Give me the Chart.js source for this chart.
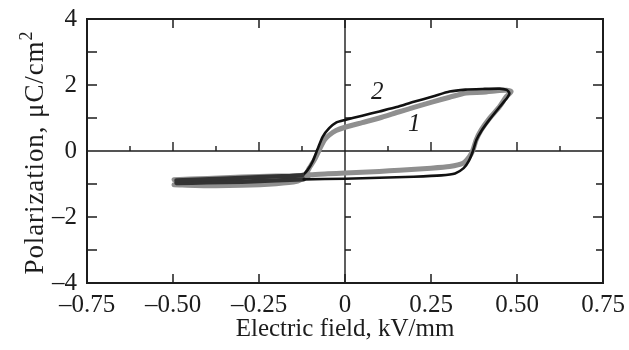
<!DOCTYPE html>
<html>
<head>
<meta charset="utf-8">
<title>Polarization loops</title>
<script src="https://cdn.jsdelivr.net/npm/chart.js@4.4.1/dist/chart.umd.min.js"></script>
<style>
    body { margin: 0; background: #ffffff; }
    #LoopChart { display: block; }
</style>
</head>
<body>
<canvas id="LoopChart" width="629" height="350"></canvas>
<script>
const LoopChartId = 'LoopChart';

// axis ticks
const fieldTicks = [-0.75, -0.5, -0.25, 0, 0.25, 0.5, 0.75];
const polarizationTicks = [-4, -2, 0, 2, 4];

// loop 1 (gray), rising field branch then falling field branch
const loop1RiseE = [-0.497, -0.40, -0.30, -0.20, -0.14, -0.115, -0.10, -0.05, 0.00, 0.10, 0.158, 0.25, 0.304, 0.343, 0.362, 0.372, 0.381, 0.396, 0.42, 0.449, 0.469, 0.483];
const loop1RiseP = [-1.02, -1.05, -1.04, -0.99, -0.92, -0.80, -0.72, -0.69, -0.67, -0.62, -0.58, -0.52, -0.47, -0.37, -0.17, 0.03, 0.33, 0.64, 0.99, 1.34, 1.65, 1.80];
const loop1FallE = [0.47, 0.449, 0.40, 0.352, 0.304, 0.255, 0.20, 0.158, 0.10, 0.05, 0.00, -0.026, -0.046, -0.06, -0.075, -0.089, -0.104, -0.114, -0.13, -0.20, -0.30, -0.40, -0.497];
const loop1FallP = [1.84, 1.83, 1.78, 1.76, 1.63, 1.49, 1.32, 1.19, 1.00, 0.86, 0.72, 0.62, 0.48, 0.33, 0.03, -0.27, -0.52, -0.70, -0.74, -0.76, -0.79, -0.83, -0.87];

// loop 2 (black)
const loop2RiseE = [-0.49, -0.40, -0.30, -0.20, -0.12, 0.00, 0.10, 0.20, 0.28, 0.32, 0.345, 0.36, 0.372, 0.382, 0.396, 0.42, 0.45, 0.472, 0.478];
const loop2RiseP = [-0.97, -0.95, -0.93, -0.89, -0.86, -0.84, -0.81, -0.78, -0.74, -0.68, -0.52, -0.30, 0.00, 0.33, 0.60, 0.95, 1.34, 1.62, 1.75];
const loop2FallE = [0.47, 0.45, 0.40, 0.35, 0.304, 0.255, 0.20, 0.15, 0.10, 0.05, 0.00, -0.026, -0.046, -0.065, -0.08, -0.094, -0.109, -0.124, -0.20, -0.337, -0.49];
const loop2FallP = [1.85, 1.89, 1.88, 1.86, 1.80, 1.65, 1.49, 1.33, 1.20, 1.07, 0.94, 0.86, 0.69, 0.43, 0.05, -0.32, -0.58, -0.73, -0.77, -0.83, -0.89];

// curve numbers
const curveLabels = ['1', '2'];
const curveLabelE = [0.201, 0.094];
const curveLabelP = [0.82, 1.76];

const serif = '"Liberation Serif", "Times New Roman", serif';
const inkColor = '#1c1c1c';

function ToPoints(riseE, riseP, fallE, fallP)
{
    const points = [];
    riseE.forEach((e, i) => points.push({ x: e, y: riseP[i] }));
    fallE.forEach((e, i) => points.push({ x: e, y: fallP[i] }));
    return points;
}

function FormatTick(value)
{
    if (value === 0) return '0';
    const text = Math.abs(value).toFixed(Number.isInteger(value) ? 0 : 2);
    return value < 0 ? '\u2013' + text : text;
}

// the two black branches run together on the negative side, so draw them as one heavy band there
function IsLeftTail(ctx)
{
    return ctx.p0.parsed.x < -0.115 && ctx.p1.parsed.x < -0.115;
}

const framePlugin = {
    id: 'frameAndTicks',
    beforeDatasetsDraw(chart)
    {
        const { ctx, chartArea: { left, top, right, bottom }, scales: { x, y } } = chart;
        const x0 = x.getPixelForValue(0);
        const y0 = y.getPixelForValue(0);
        ctx.save();
        ctx.strokeStyle = inkColor;
        ctx.lineWidth = 1.4;
        ctx.beginPath();
        ctx.moveTo(left, y0);
        ctx.lineTo(right, y0);
        ctx.moveTo(x0, top);
        ctx.lineTo(x0, bottom);
        // ticks on the zero lines
        for (let v = -0.625; v < 0.75; v += 0.125)
        {
            const px = x.getPixelForValue(v);
            const major = Math.abs(v / 0.25 - Math.round(v / 0.25)) < 1e-6;
            ctx.moveTo(px, y0);
            ctx.lineTo(px, y0 - (major ? 9 : 5));
        }
        for (let v = -3; v <= 3; v++)
        {
            const py = y.getPixelForValue(v);
            ctx.moveTo(x0, py);
            ctx.lineTo(x0 + 6, py);
        }
        ctx.stroke();
        ctx.restore();
    },
    afterDatasetsDraw(chart)
    {
        const { ctx, chartArea: { left, top, right, bottom }, scales: { x, y } } = chart;
        ctx.save();
        ctx.strokeStyle = inkColor;
        ctx.lineWidth = 1.5;
        ctx.beginPath();
        fieldTicks.slice(1, -1).forEach(v =>
        {
            const px = x.getPixelForValue(v);
            ctx.moveTo(px, bottom);
            ctx.lineTo(px, bottom - 9);
            ctx.moveTo(px, top);
            ctx.lineTo(px, top + 9);
        });
        for (let v = -3; v <= 3; v++)
        {
            if (v === 0) continue;
            const py = y.getPixelForValue(v);
            ctx.moveTo(left, py);
            ctx.lineTo(left + 10, py);
            ctx.moveTo(right, py);
            ctx.lineTo(right - (v % 2 === 0 ? 10 : 7), py);
        }
        ctx.stroke();
        ctx.lineWidth = 2;
        ctx.strokeRect(left, top, right - left, bottom - top);

        ctx.fillStyle = inkColor;
        ctx.font = 'italic 25px ' + serif;
        ctx.textAlign = 'center';
        ctx.textBaseline = 'middle';
        curveLabels.forEach((t, i) =>
        {
            ctx.fillText(t, x.getPixelForValue(curveLabelE[i]), y.getPixelForValue(curveLabelP[i]));
        });

        // y axis title, drawn by hand to get the superscript
        const mainText = 'Polarization, \u03bcC/cm';
        ctx.font = '27px ' + serif;
        ctx.letterSpacing = '0.9px';
        const mainWidth = ctx.measureText(mainText).width;
        ctx.font = '18px ' + serif;
        ctx.letterSpacing = '0px';
        const supWidth = ctx.measureText('2').width;
        const total = mainWidth + supWidth;
        ctx.translate(43, 153);
        ctx.rotate(-Math.PI / 2);
        ctx.textAlign = 'left';
        ctx.textBaseline = 'alphabetic';
        ctx.font = '27px ' + serif;
        ctx.letterSpacing = '0.9px';
        ctx.fillText(mainText, -total / 2, 0);
        ctx.font = '18px ' + serif;
        ctx.letterSpacing = '0px';
        ctx.fillText('2', -total / 2 + mainWidth, -11);
        ctx.restore();
    }
};

new Chart(document.getElementById(LoopChartId),
{
    type: 'scatter',
    data:
    {
        datasets:
        [
            {
                label: '2',
                data: ToPoints(loop2RiseE, loop2RiseP, loop2FallE, loop2FallP),
                borderColor: '#111111',
                borderWidth: 2.6,
                segment:
                {
                    borderWidth: ctx => IsLeftTail(ctx) ? 4.4 : undefined,
                    borderColor: ctx => IsLeftTail(ctx) ? '#333333' : undefined
                },
                order: 1
            },
            {
                label: '1',
                data: ToPoints(loop1RiseE, loop1RiseP, loop1FallE, loop1FallP),
                borderColor: '#8f8f8f',
                borderWidth: 5,
                order: 2
            }
        ]
    },
    options:
    {
        responsive: false,
        animation: false,
        devicePixelRatio: 1,
        layout: { padding: { left: 0, top: 19, right: 26, bottom: 0 } },
        datasets:
        {
            scatter:
            {
                showLine: true,
                pointRadius: 0,
                tension: 0.2,
                fill: false,
                borderCapStyle: 'round',
                borderJoinStyle: 'round'
            }
        },
        plugins:
        {
            legend: { display: false },
            tooltip: { enabled: false }
        },
        scales:
        {
            x:
            {
                min: -0.75,
                max: 0.75,
                afterBuildTicks(scale) { scale.ticks = fieldTicks.map(v => ({ value: v })); },
                afterFit(scale)
                {
                    scale.height = 67;
                    scale.paddingLeft = 0;
                    scale.paddingRight = 0;
                },
                grid: { display: false, drawTicks: false },
                border: { display: false },
                ticks:
                {
                    padding: 7,
                    color: inkColor,
                    font: { family: serif, size: 25 },
                    maxRotation: 0,
                    callback: FormatTick
                },
                title:
                {
                    display: true,
                    text: 'Electric field, kV/mm',
                    color: inkColor,
                    font: { family: serif, size: 25 },
                    padding: { top: 0, bottom: 6 }
                }
            },
            y:
            {
                min: -4,
                max: 4,
                afterBuildTicks(scale) { scale.ticks = polarizationTicks.map(v => ({ value: v })); },
                afterFit(scale)
                {
                    scale.width = 87;
                    scale.paddingTop = 0;
                    scale.paddingBottom = 0;
                },
                grid: { display: false, drawTicks: false },
                border: { display: false },
                ticks:
                {
                    padding: 10,
                    color: inkColor,
                    font: { family: serif, size: 25 },
                    callback: FormatTick
                }
            }
        }
    },
    plugins: [framePlugin]
});
</script>
</body>
</html>
